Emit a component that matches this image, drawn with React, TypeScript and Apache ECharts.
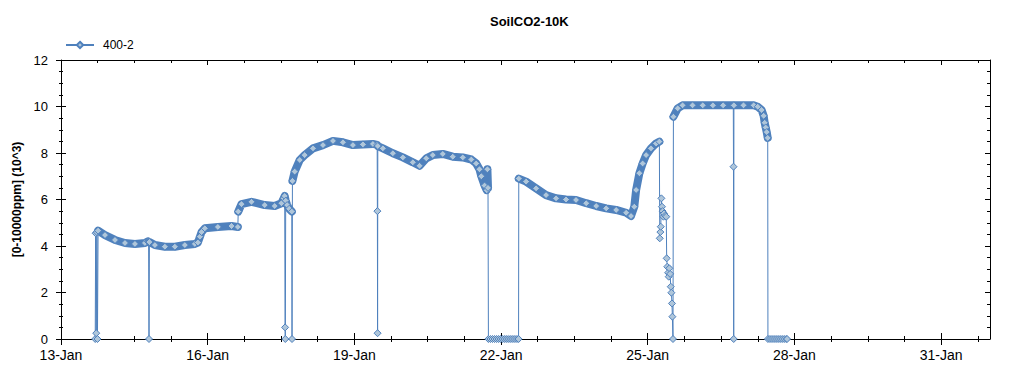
import React, { useEffect, useRef } from 'react';
import * as echarts from 'echarts';

const TITLE = 'SoilCO2-10K';
const SERIES_NAME = '400-2';
const Y_NAME = '[0-10000ppm] (10^3)';
const MONTHS = ['Jan', 'Feb', 'Mar', 'Apr', 'May', 'Jun', 'Jul', 'Aug', 'Sep', 'Oct', 'Nov', 'Dec'];
const START_DAY = 13; // x values are hours after 13-Jan 00:00
const X_MAX_HOURS = 456;
const MAJOR_TICK_HOURS = [0, 72, 144, 216, 288, 360, 432];
const MINOR_TICK_HOURS = [18, 36, 54, 90, 108, 126, 162, 180, 198, 234, 252, 270, 306, 324, 342, 378, 396, 414, 450];
const Y_MIN = 0;
const Y_MAX = 12;
const Y_STEP = 2;

// [hours since 13-Jan 00:00, value (10^3 ppm)]
const startGlitch = [[16.8, 0], [17.0, 4.55], [17.3, 0.25], [17.6, 4.6], [17.9, 0]];
const segA = [
  [18.2, 4.66], [21.6, 4.47], [26.5, 4.26], [31.4, 4.13], [36.3, 4.09], [41.2, 4.13], [42.7, 4.2], [43.0, 4.18],
  [43.4, 4.17], [46.1, 4.04], [51.0, 3.97], [55.9, 3.97], [60.8, 4.04], [65.7, 4.09], [67.2, 4.15], [68.2, 4.4],
  [69.0, 4.6], [70.6, 4.76], [77.0, 4.82], [83.7, 4.86], [86.8, 4.82],
];
const spikeA = [[43.2, 0]];
const segB = [
  [87.0, 5.48], [88.6, 5.8], [93.5, 5.9], [100.0, 5.76], [104.9, 5.72], [108.2, 5.84], [109.3, 6.05], [109.8, 6.15],
  [110.3, 5.95], [111.0, 5.76], [112.0, 5.6], [113.3, 5.48],
];
const spikeB = [[110.0, 0.5], [110.1, 0], [113.4, 0]];
const segC = [
  [113.6, 6.8], [114.7, 7.2], [117.2, 7.7], [119.6, 7.91], [123.7, 8.2], [128.6, 8.34], [133.5, 8.52], [138.4, 8.46],
  [143.3, 8.34], [148.2, 8.37], [153.1, 8.39], [155.2, 8.35], [155.5, 8.3], [158.0, 8.2], [162.9, 7.99], [167.8, 7.81],
  [172.7, 7.6], [176.0, 7.45], [179.3, 7.77], [182.5, 7.91], [187.4, 7.96], [192.3, 7.84], [197.2, 7.81], [201.4, 7.72],
  [203.8, 7.55], [205.4, 7.3], [206.3, 7.0], [207.9, 6.6], [209.0, 6.4], [209.3, 7.3], [209.6, 6.5],
];
const spikeC = [[155.3, 5.5], [155.4, 0.25]];
const zeroRun1 = [
  [209.8, 0], [210.8, 0], [211.8, 0], [212.8, 0], [213.8, 0], [214.8, 0], [215.8, 0], [216.8, 0],
  [217.8, 0], [218.8, 0], [219.8, 0], [220.8, 0], [221.8, 0], [222.8, 0], [223.8, 0], [224.6, 0],
];
const segD = [
  [224.7, 6.9], [228.3, 6.77], [233.2, 6.48], [238.1, 6.19], [243.0, 6.05], [247.9, 6.0], [252.8, 5.98], [257.8, 5.84],
  [262.7, 5.72], [267.6, 5.62], [272.5, 5.55], [277.4, 5.43], [279.8, 5.29], [281.4, 5.69], [282.3, 6.41], [283.9, 7.13],
  [285.5, 7.55], [287.2, 7.91], [289.6, 8.2], [292.1, 8.41], [293.7, 8.49],
];
const unstable = [
  [293.9, 4.33], [294.2, 4.6], [294.4, 4.83], [294.7, 6.05], [295.0, 5.69], [295.3, 5.5], [295.7, 5.26], [296.0, 5.4],
  [296.6, 5.3], [297.1, 5.26], [297.3, 3.47], [297.6, 3.11], [298.0, 2.85], [298.3, 2.68], [298.6, 3.04], [299.0, 2.8],
  [299.3, 2.25], [299.6, 1.99], [299.9, 1.53], [300.1, 0.96], [300.4, 0],
];
const segF = [
  [300.6, 9.56], [302.7, 9.92], [305.1, 10.05], [310, 10.05], [315, 10.05], [320, 10.05], [325, 10.05], [330.0, 10.05],
  [330.3, 10.05], [335, 10.05], [340, 10.05], [342.0, 9.99], [343.9, 9.85], [344.9, 9.6], [345.4, 9.3], [345.9, 9.1],
  [346.4, 8.9], [346.9, 8.65],
];
const spikeF = [[330.1, 7.41], [330.2, 0]];
const zeroRun2 = [
  [347.0, 0], [348, 0], [349, 0], [350, 0], [351, 0], [352, 0], [353, 0], [354, 0], [355, 0], [356, 0], [356.4, 0],
];

const FONT = '"Liberation Sans", Arial, sans-serif';
const LINE_COLOR = '#4F81BD';
const MARK_FILL = '#AFC6DA';

const allPoints = [
  ...startGlitch, ...segA, ...spikeA, ...segB, ...spikeB, ...segC, ...spikeC, ...zeroRun1,
  ...segD, ...unstable, ...segF, ...spikeF, ...zeroRun2,
].slice().sort((a, b) => a[0] - b[0]);

const bandSegments = [segA, segB, segC, segD, segF];
const bandPoints: any[] = [];
bandSegments.forEach((s, i) => {
  if (i > 0) bandPoints.push([s[0][0] - 0.01, '-']);
  s.forEach((p) => bandPoints.push(p));
});

const fmtDate = (v: number) => {
  const d = new Date(2014, 0, START_DAY, 0, 0, 0);
  d.setTime(d.getTime() + v * 3600000);
  return d.getDate() + '-' + MONTHS[d.getMonth()];
};

const blackLine = { color: '#000', width: 1 };

const xTickAxis = (position: string, inside: boolean, length: number, values: number[], showLine: boolean) => ({
  type: 'value',
  min: 0,
  max: X_MAX_HOURS,
  interval: 72,
  position,
  axisLine: { show: showLine, onZero: false, lineStyle: blackLine },
  axisTick: { show: true, inside, length, customValues: values, lineStyle: blackLine },
  axisLabel: { show: false },
  splitLine: { show: false },
});

const yTickAxis = (position: string, inside: boolean, length: number, minorLen: number, showLine: boolean) => ({
  type: 'value',
  min: Y_MIN,
  max: Y_MAX,
  interval: Y_STEP,
  position,
  axisLine: { show: showLine, onZero: false, lineStyle: blackLine },
  axisTick: { show: true, inside, length, lineStyle: blackLine },
  minorTick: { show: true, splitNumber: 4, length: minorLen, lineStyle: blackLine },
  axisLabel: { show: false },
  splitLine: { show: false },
  minorSplitLine: { show: false },
});

const option: any = {
  animation: false,
  backgroundColor: '#fff',
  textStyle: { fontFamily: FONT },
  title: {
    text: TITLE,
    left: 485,
    top: 10,
    textStyle: { fontSize: 13, fontWeight: 'bold', color: '#000', fontFamily: FONT },
  },
  legend: {
    data: [SERIES_NAME],
    left: 65,
    top: 39,
    padding: 0,
    itemWidth: 28,
    itemHeight: 8,
    textStyle: { fontSize: 12, color: '#000', fontFamily: FONT, padding: [0, 0, 0, 4] },
  },
  grid: { left: 61, top: 60, width: 929, height: 279, containLabel: false },
  xAxis: [
    {
      ...xTickAxis('bottom', false, 6, MAJOR_TICK_HOURS, true),
      axisLabel: {
        show: true,
        customValues: MAJOR_TICK_HOURS,
        formatter: (v: number) => fmtDate(v),
        fontSize: 14,
        color: '#000',
        margin: 9,
        fontFamily: FONT,
      },
    },
    xTickAxis('bottom', true, 6, MAJOR_TICK_HOURS, false),
    xTickAxis('bottom', false, 3, MINOR_TICK_HOURS, false),
    xTickAxis('bottom', true, 3, MINOR_TICK_HOURS, false),
    xTickAxis('top', true, 5, MAJOR_TICK_HOURS, true),
    xTickAxis('top', true, 3, MINOR_TICK_HOURS, false),
  ],
  yAxis: [
    {
      ...yTickAxis('left', false, 5, 2, true),
      axisLabel: { show: true, fontSize: 13, color: '#000', margin: 13, fontFamily: FONT },
      name: Y_NAME,
      nameLocation: 'middle',
      nameGap: 36,
      nameTextStyle: { fontSize: 12, fontWeight: 'bold', color: '#000', fontFamily: FONT },
    },
    yTickAxis('left', true, 5, 2, false),
    yTickAxis('right', true, 5, 3, true),
  ],
  series: [
    {
      type: 'line',
      name: SERIES_NAME,
      xAxisIndex: 0,
      yAxisIndex: 0,
      data: allPoints,
      symbol: 'diamond',
      symbolSize: 7,
      showSymbol: true,
      showAllSymbol: true,
      lineStyle: { color: LINE_COLOR, width: 1 },
      itemStyle: { color: MARK_FILL, borderColor: LINE_COLOR, borderWidth: 1 },
      z: 3,
      clip: true,
    },
    {
      type: 'line',
      name: 'band',
      xAxisIndex: 0,
      yAxisIndex: 0,
      data: bandPoints,
      symbol: 'none',
      connectNulls: false,
      silent: true,
      lineStyle: { color: LINE_COLOR, width: 8, join: 'round', cap: 'round' },
      z: 2,
    },
  ],
};

export default function App() {
  const ref = useRef<HTMLDivElement>(null);
  useEffect(() => {
    if (!ref.current) return;
    const chart = echarts.init(ref.current, null, { renderer: 'svg' });
    chart.setOption(option);
    return () => chart.dispose();
  }, []);
  return (
    <div
      ref={ref}
      style={{ position: 'fixed', left: 0, top: 0, width: 1024, height: 375, background: '#fff' }}
    />
  );
}
